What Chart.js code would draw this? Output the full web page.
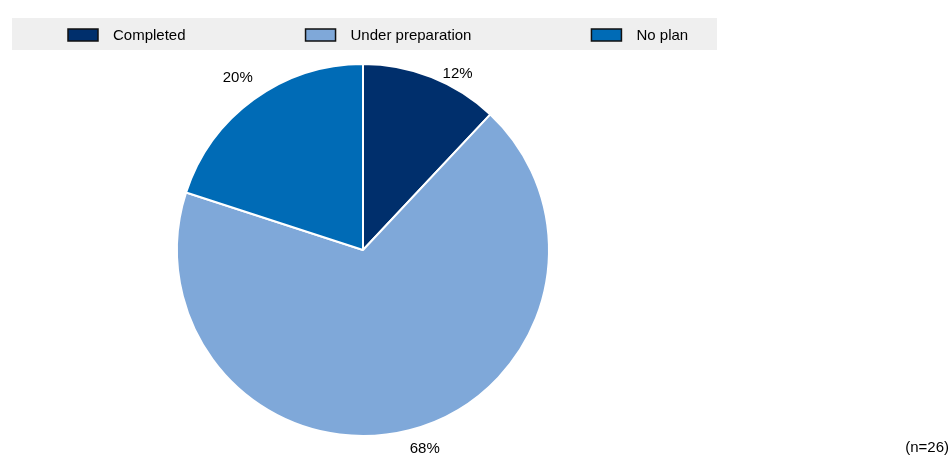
<!DOCTYPE html>
<html>
<head>
  <title>Plan status</title>
  <style>
    body { margin: 0; background: #fff; }
    #wrap { position: relative; width: 951px; height: 456px; }
  </style>
</head>
<body>
  <div id="wrap"><canvas id="pieChart"></canvas></div>

  <script src="https://cdn.jsdelivr.net/npm/chart.js@4.4.0/dist/chart.umd.js"></script>
  <script>
    const categories = ['Completed', 'Under preparation', 'No plan'];
    const shares = [12, 68, 20];
    const sliceColors = ['#002f6c', '#7fa8d9', '#006bb6'];
    const sampleNote = '(n=26)';

    const FONT = '15px "Liberation Sans", Arial, sans-serif';

    // nudges for the percentage labels, relative to the point just outside each slice
    const labelNudge = [[18, 17], [10, -3], [-3, -4]];

    const overlay = {
      id: 'overlay',
      afterDraw(chart) {
        const ctx = chart.ctx;
        ctx.save();
        ctx.font = FONT;
        ctx.fillStyle = '#000';

        // legend band
        ctx.fillStyle = '#efefef';
        ctx.fillRect(12, 18, 705, 32);
        let x = 68;
        categories.forEach((name, i) => {
          ctx.fillStyle = sliceColors[i];
          ctx.fillRect(x, 29, 30, 12);
          ctx.strokeStyle = '#111';
          ctx.lineWidth = 1.5;
          ctx.strokeRect(x, 29, 30, 12);
          ctx.fillStyle = '#000';
          ctx.textAlign = 'left';
          ctx.textBaseline = 'middle';
          ctx.fillText(name, x + 45, 36);
          x += 45 + ctx.measureText(name).width + 120;
        });

        // percentage labels outside each slice
        const arcs = chart.getDatasetMeta(0).data;
        arcs.forEach((arc, i) => {
          const mid = (arc.startAngle + arc.endAngle) / 2;
          const r = arc.outerRadius + 22;
          const lx = arc.x + Math.cos(mid) * r + labelNudge[i][0];
          const ly = arc.y + Math.sin(mid) * r + labelNudge[i][1];
          ctx.fillStyle = '#000';
          ctx.textAlign = 'center';
          ctx.textBaseline = 'middle';
          ctx.fillText(shares[i] + '%', lx, ly);
        });

        ctx.textAlign = 'right';
        ctx.fillText(sampleNote, 949, 448);
        ctx.restore();
      }
    };

    new Chart(document.getElementById('pieChart'), {
      type: 'pie',
      data: {
        labels: categories,
        datasets: [{
          data: shares,
          backgroundColor: sliceColors,
          borderColor: '#ffffff',
          borderWidth: 2
        }]
      },
      options: {
        responsive: true,
        maintainAspectRatio: false,
        animation: false,
        layout: { padding: { top: 63, bottom: 19, left: 0, right: 225 } },
        plugins: {
          legend: { display: false },
          tooltip: { enabled: false }
        }
      },
      plugins: [overlay]
    });
  </script>
</body>
</html>
